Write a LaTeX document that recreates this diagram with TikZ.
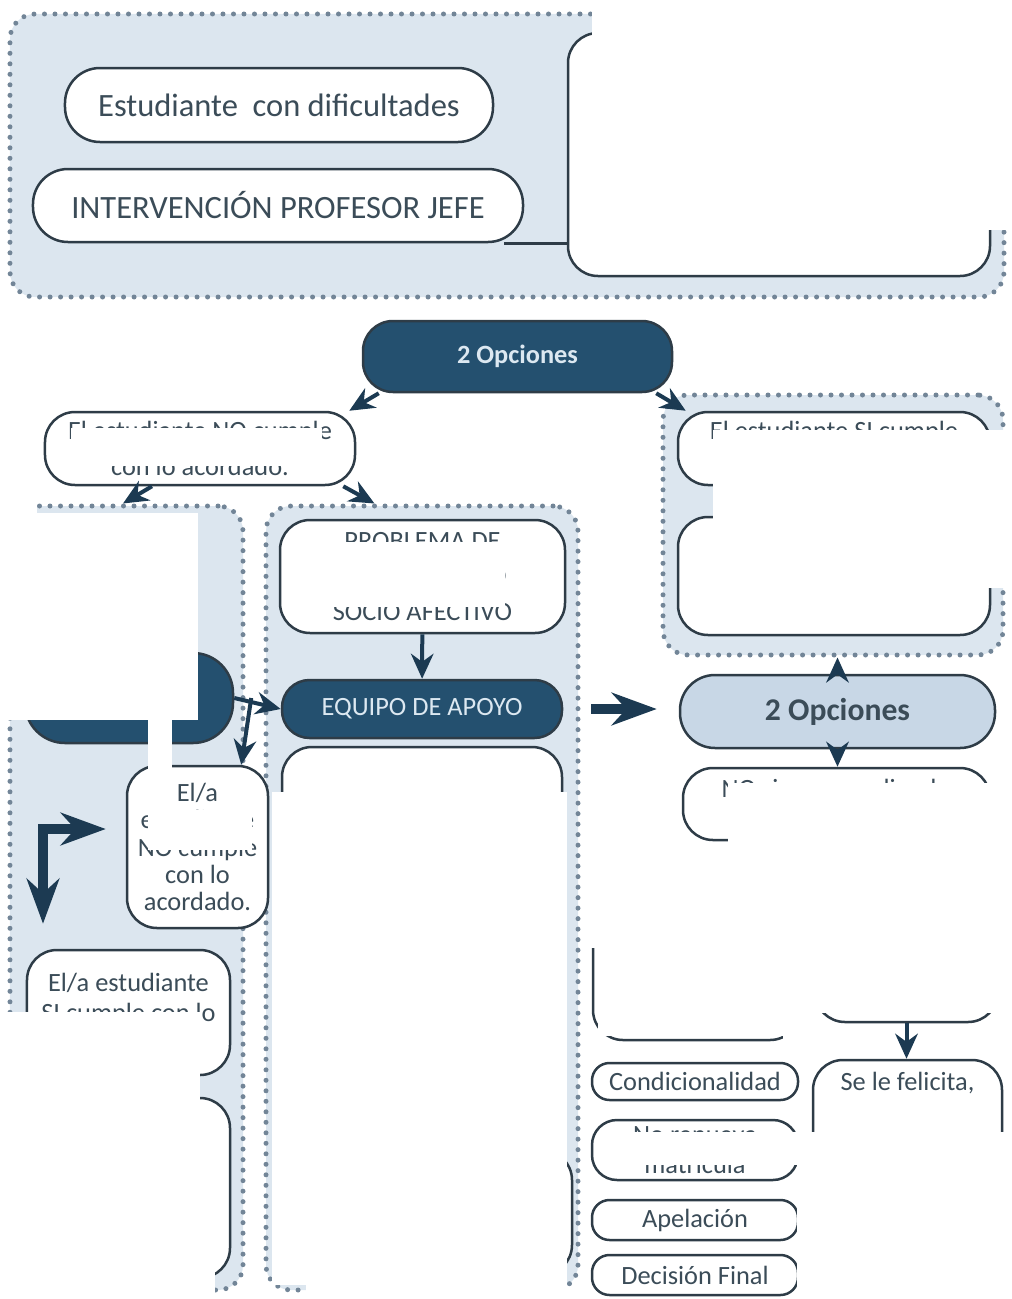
\documentclass[tikz,border=0pt]{standalone}
\usepackage{fontspec}
\setmainfont{Carlito}
\usetikzlibrary{positioning,arrows.meta}
\definecolor{grpfill}{HTML}{DCE6EF}
\definecolor{grpdot}{HTML}{728597}
\definecolor{navy}{HTML}{24506F}
\definecolor{navytext}{HTML}{DCE8F1}
\definecolor{edge}{HTML}{2E3C47}
\definecolor{ink}{HTML}{3B4C58}
\definecolor{paleblue}{HTML}{C8D7E6}
\definecolor{arrowcol}{HTML}{1C3A52}

\begin{document}
\begin{tikzpicture}
[x=0.2mm,y=-0.2mm,
every node/.style={font=\fontsize{15}{18}\selectfont,text=ink,align=center,inner sep=0pt},
group/.style={draw=grpdot,fill=grpfill,line width=1mm,dash pattern=on 0pt off 2.1mm,line cap=round,rounded corners=5mm},
pill/.style={draw=edge,fill=white,line width=0.5mm,rounded corners=7mm},
boxr/.style={draw=edge,fill=white,line width=0.5mm,rounded corners=6mm},
darkpill/.style={draw=edge,fill=navy,line width=0.5mm,rounded corners=6mm,text=navytext},
arr/.style={draw=arrowcol,line width=0.8mm,-{Stealth[length=5mm,width=4.5mm]}},
fat/.style={draw=arrowcol,line width=2mm,-{Stealth[length=9mm,width=6.5mm]}},
link/.style={draw=edge,line width=0.5mm},
hide/.style={fill=white,draw=none}]

\useasboundingbox (0,0) rectangle (1011,1299);

\node[group,minimum width=198.8mm,minimum height=56.6mm] (gTop) at (507,155.5) {};
\node[group,minimum width=46.6mm,minimum height=156.8mm] (gLeft) at (126.5,898) {};
\node[group,minimum width=62.4mm,minimum height=156.8mm] (gMid) at (422,898) {};
\node[group,minimum width=68mm,minimum height=52mm] (gRight) at (833,525) {};

\node[pill,minimum width=85.6mm,minimum height=14.8mm,font=\fontsize{18.5}{22}\selectfont] (est) at (279,105) {Estudiante \ con dificultades};
\node[pill,minimum width=98mm,minimum height=14.6mm,font=\fontsize{18.5}{22}\selectfont] (jefe) at (278,205.5) {INTERVENCIÓN PROFESOR JEFE};
\node[boxr,minimum width=84.4mm,minimum height=48.6mm] (acuerdo) at (779,154.5) {};
\draw[link] ([xshift=-4mm]jefe.south east) -- (jefe.south east -| acuerdo.west);

\node[darkpill,minimum width=61.8mm,minimum height=14.2mm,font=\fontsize{15}{18}\selectfont\bfseries] (opc) at (517.5,356.5) {2 Opciones};
\node[boxr,minimum width=62mm,minimum height=14.6mm,font=\fontsize{15}{20}\selectfont] (no) at (200,448.5) {El estudiante NO cumple\\con lo acordado.};
\node[boxr,minimum width=62.4mm,minimum height=14.6mm,font=\fontsize{15}{20}\selectfont] (si) at (834,448.5) {El estudiante SI cumple\\con lo acordado.};
\node[boxr,minimum width=62.4mm,minimum height=23.6mm] (cambio) at (834,576) {};

\node[boxr,minimum width=57mm,minimum height=22.6mm,font=\fontsize{15}{20}\selectfont] (problema) at (422.5,576.5) {PROBLEMA DE\\APRENDIZAJE O\\SOCIO AFECTIVO};
\node[darkpill,minimum width=56mm,minimum height=11.6mm,rounded corners=5.5mm,font=\fontsize{15}{18}\selectfont] (equipo) at (422,709) {EQUIPO DE APOYO};
\node[boxr,minimum width=56mm,minimum height=50.6mm] (plan) at (422,873.5) {};
\node[boxr,minimum width=56.4mm,minimum height=25mm] (cierre) at (431,1212.5) {};

\node[darkpill,minimum width=41.6mm,minimum height=18mm,rounded corners=8mm] (entrevista) at (129,698) {};
\node[boxr,minimum width=28.2mm,minimum height=32.4mm,font=\fontsize{15}{15.4}\selectfont] (ela) at (197.5,847) {El/a\\estudiante\\NO cumple\\con lo\\acordado.};
\node[boxr,minimum width=40.6mm,minimum height=25mm,font=\fontsize{15}{17}\selectfont] (elasi) at (128.5,1012.5) {El/a estudiante\\SI cumple con lo\\acordado.};
\node[boxr,minimum width=40.6mm,minimum height=36mm] (elaapoyo) at (128.5,1188) {};

\node[pill,fill=paleblue,minimum width=63mm,minimum height=14.6mm,font=\fontsize{18}{21}\selectfont\bfseries] (opc2) at (837.5,711.5) {2 Opciones};
\node[boxr,minimum width=61.4mm,minimum height=14.4mm] (nosigue) at (836.5,804) {};
\node (nosigueTxt) at (836,791) {NO sigue cumpliendo};
\node[boxr,minimum width=41.4mm,minimum height=32mm] (medidas) at (696.5,960) {};
\node[boxr,minimum width=36.6mm,minimum height=30.4mm] (mejora) at (906.5,946) {};
\node[pill,minimum width=41.2mm,minimum height=7.4mm,rounded corners=3.5mm] (condi) at (695,1081.5) {Condicionalidad};
\node[boxr,minimum width=41.2mm,minimum height=12mm,rounded corners=5mm,font=\fontsize{15}{17}\selectfont] (matricula) at (695,1150) {No renueva\\matrícula};
\node[pill,minimum width=41.2mm,minimum height=8mm,rounded corners=3.5mm] (apela) at (695,1220) {Apelación};
\node[pill,minimum width=41.2mm,minimum height=8mm,rounded corners=3.5mm] (decision) at (695,1275) {Decisión Final};
\node[boxr,minimum width=37.8mm,minimum height=38mm] (felicita) at (907.5,1155) {};
\node (felicitaTxt) at (907.5,1083) {Se le felicita,};

\draw[arr] ([xshift=3.4mm]opc.south west) -- ([xshift=-1.4mm]no.north east);
\draw[arr] ([xshift=-3.4mm]opc.south east) -- ([xshift=1.8mm]si.north west);
\draw[arr] ([xshift=-9.6mm]no.south) -- ([xshift=-0.7mm]gLeft.north);
\draw[arr] ([xshift=-2.6mm]no.south east) -- ([xshift=22.2mm]gMid.north west);
\draw[arr] (problema) -- (equipo);
\draw[arr] (entrevista.east) -- (equipo.west);
\draw[arr] ([xshift=3.4mm]entrevista.east) -- ([xshift=-5.6mm]ela.north east);
\draw[fat,shorten >=4.4mm] ([xshift=5.6mm]equipo.east) -- (equipo.east -| opc2.west);
\draw[arr] (opc2.north) -- (opc2.north |- gRight.south);
\draw[arr] (opc2.south) -- (opc2.south |- nosigue.north);
\draw[arr] (mejora.south) -- (mejora.south |- felicita.north);

\coordinate (codo) at (43,829);
\draw[fat,line cap=rect,shorten >=4mm] (codo) -- (codo -| ela.west);
\draw[fat,line cap=rect,shorten >=5mm] (codo) -- (codo |- elasi.north);

\fill[hide] (592,0) rectangle (1011,230);
\fill[hide] (0,500) rectangle (37,720);
\fill[hide] (37,513) rectangle (198,720);
\fill[hide] (148,720) rectangle (172,782);
\fill[hide] (148,810) rectangle (252,850);
\fill[hide] (0,1012) rectangle (200,1299);
\fill[hide] (200,1230) rectangle (215,1299);
\fill[hide] (272,792) rectangle (567,1285);
\fill[hide] (306,1280) rectangle (567,1299);
\fill[hide] (71,428) rectangle (322,466);
\fill[hide] (328,542) rectangle (505,607);
\fill[hide] (713,430) rectangle (1011,588);
\fill[hide] (728,783) rectangle (1011,848);
\fill[hide] (588,848) rectangle (783,948);
\fill[hide] (598,948) rectangle (783,1036);
\fill[hide] (783,848) rectangle (1011,1013);
\fill[hide] (783,1013) rectangle (813,1050);
\fill[hide] (630,1132) rectangle (1011,1165);
\fill[hide] (797,1133) rectangle (1011,1299);
\end{tikzpicture}
\end{document}
